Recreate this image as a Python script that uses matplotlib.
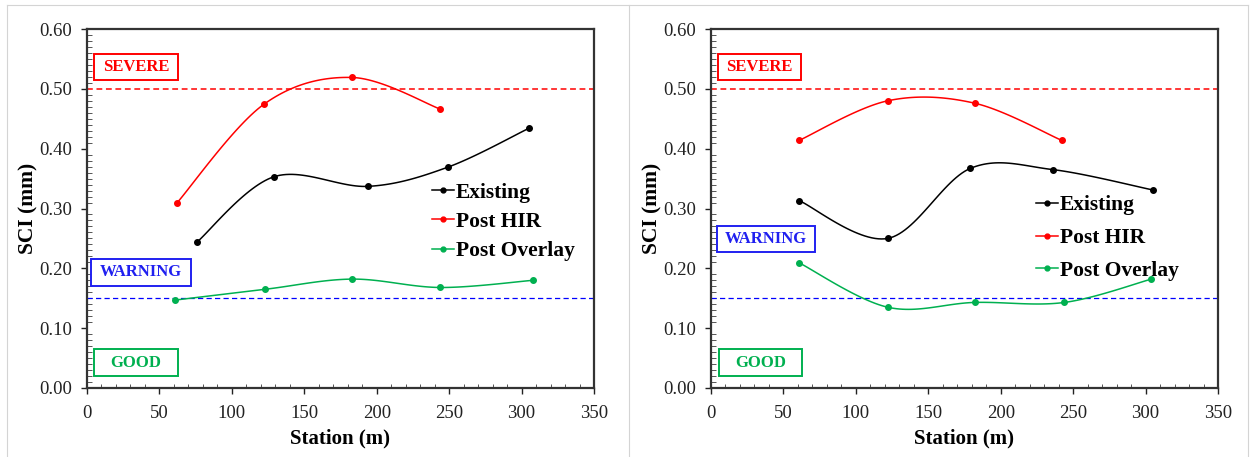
import numpy as np
import matplotlib
matplotlib.use("Agg")
import matplotlib.pyplot as plt
from matplotlib.lines import Line2D
from matplotlib.patches import Rectangle
from matplotlib.ticker import MultipleLocator, FormatStrFormatter

plt.rcParams['font.family'] = ['Liberation Serif', 'DejaVu Serif']

# ---------------- data ----------------
# Left panel
L_exist_x = [76, 129, 194, 249, 305]
L_exist_y = [0.244, 0.353, 0.337, 0.369, 0.434]
L_hir_x = [62, 122, 183, 244]
L_hir_y = [0.309, 0.474, 0.519, 0.466]
L_ovl_x = [61, 123, 183, 244, 308]
L_ovl_y = [0.147, 0.165, 0.182, 0.168, 0.180]
# Right panel
R_exist_x = [61, 122, 179, 236, 305]
R_exist_y = [0.313, 0.250, 0.367, 0.365, 0.331]
R_hir_x = [61, 122, 182, 242]
R_hir_y = [0.414, 0.480, 0.476, 0.414]
R_ovl_x = [61, 122, 182, 244, 304]
R_ovl_y = [0.209, 0.135, 0.143, 0.143, 0.182]

series_names = ['Existing', 'Post HIR', 'Post Overlay']
series_colors = ['#000000', '#ff0000', '#00b050']

severe_level = 0.50
warning_level = 0.15

x_ticks = [0, 50, 100, 150, 200, 250, 300, 350]
y_ticks = [0.00, 0.10, 0.20, 0.30, 0.40, 0.50, 0.60]

# annotation boxes: (label, color, x0, x1, y0, y1) in data coords
L_boxes = [('SEVERE', '#ff0000', 4.8, 62.6, 0.515, 0.558),
           ('WARNING', '#2020f0', 2.6, 71.7, 0.171, 0.216),
           ('GOOD', '#00b050', 5.1, 62.6, 0.020, 0.065)]
R_boxes = [('SEVERE', '#ff0000', 5.0, 62.2, 0.515, 0.558),
           ('WARNING', '#2020f0', 3.9, 72.1, 0.228, 0.271),
           ('GOOD', '#00b050', 5.5, 62.5, 0.020, 0.065)]


def smooth(xs, ys, n=30):
    """Excel-like smoothed line (Catmull-Rom Bezier) through the points."""
    P = np.column_stack([xs, ys]).astype(float)
    out = [P[0]]
    m = len(P)
    for i in range(m - 1):
        p0 = P[i - 1] if i > 0 else P[i]
        p1 = P[i]
        p2 = P[i + 1]
        p3 = P[i + 2] if i + 2 < m else P[i + 1]
        c1 = p1 + (p2 - p0) / 6.0
        c2 = p2 - (p3 - p1) / 6.0
        t = np.linspace(0, 1, n)[1:, None]
        seg = ((1 - t) ** 3) * p1 + 3 * ((1 - t) ** 2) * t * c1 + 3 * (1 - t) * t ** 2 * c2 + t ** 3 * p2
        out.extend(seg)
    out = np.array(out)
    return out[:, 0], out[:, 1]


W, H = 1251, 457
fig = plt.figure(figsize=(W / 100, H / 100), dpi=100)

# panel borders
for seg in [((7, 1248), (452, 452)), ((7, 7), (0, 452)), ((629, 629), (0, 452)), ((1248, 1248), (0, 452))]:
    fig.add_artist(Line2D([s / W for s in seg[0]], [s / H for s in seg[1]],
                          transform=fig.transFigure, color='#d4d4d4', lw=0.8))

axL = fig.add_axes([87 / W, 1 - 388 / H, 507 / W, 359 / H])
axR = fig.add_axes([711 / W, 1 - 388 / H, 507 / W, 359 / H])

panels = [
    (axL, [(L_exist_x, L_exist_y), (L_hir_x, L_hir_y), (L_ovl_x, L_ovl_y)], L_boxes,
     (432, 222), 0.42),
    (axR, [(R_exist_x, R_exist_y), (R_hir_x, R_hir_y), (R_ovl_x, R_ovl_y)], R_boxes,
     (1036, 238), 0.58),
]

for ax, data, boxes, leg_anchor, lspace in panels:
    ax.axhline(severe_level, color='#ff0000', lw=1.1, linestyle=(0, (3.8, 2.4)), zorder=2)
    ax.axhline(warning_level, color='#0000ff', lw=0.9, linestyle=(0, (4.2, 2.6)), zorder=2)

    handles = []
    for (xs, ys), name, col in zip(data, series_names, series_colors):
        sx, sy = smooth(xs, ys)
        ax.plot(sx, sy, color=col, lw=1.1, zorder=3)
        ax.plot(xs, ys, 'o', color=col, ms=4, zorder=4)
        handles.append(Line2D([], [], color=col, lw=1.1, marker='o', ms=3.5))

    for label, col, x0, x1, y0, y1 in boxes:
        ax.add_patch(Rectangle((x0, y0), x1 - x0, y1 - y0, fill=True, fc='white',
                               ec=col, lw=1.4, zorder=5))
        ax.text((x0 + x1) / 2, (y0 + y1) / 2, label, color=col, fontsize=12,
                fontweight='bold', ha='center', va='center', zorder=6)

    ax.set_xlim(0, 350)
    ax.set_ylim(0, 0.60)
    ax.set_xticks(x_ticks)
    ax.set_yticks(y_ticks)
    ax.yaxis.set_major_formatter(FormatStrFormatter('%.2f'))
    ax.xaxis.set_minor_locator(MultipleLocator(10))
    ax.yaxis.set_minor_locator(MultipleLocator(0.01))
    ax.tick_params(which='major', direction='out', length=4, width=1.0,
                   labelsize=13.5, colors='#222222')
    ax.tick_params(axis='y', which='major', pad=7)
    ax.tick_params(axis='x', which='major', pad=8)
    ax.tick_params(axis='y', which='minor', direction='in', length=3.5, width=0.7, colors='#555555')
    ax.tick_params(axis='x', which='minor', direction='in', length=3, width=0.7, colors='#555555')
    for sp in ax.spines.values():
        sp.set_linewidth(1.6)
        sp.set_color('#333333')
    ax.set_xlabel('Station (m)', fontsize=15, fontweight='bold', labelpad=5)
    ax.set_ylabel('SCI (mm)', fontsize=15.5, fontweight='bold', labelpad=0.5)

    leg = ax.legend(handles, series_names, loc='center left',
                    bbox_to_anchor=(leg_anchor[0] / W, 1 - leg_anchor[1] / H),
                    bbox_transform=fig.transFigure, frameon=False,
                    prop={'size': 15.5, 'weight': 'bold'}, handlelength=1.0,
                    handletextpad=0.1, borderpad=0, borderaxespad=0,
                    labelspacing=lspace)

fig.savefig('out.png', dpi=100, facecolor='white')
